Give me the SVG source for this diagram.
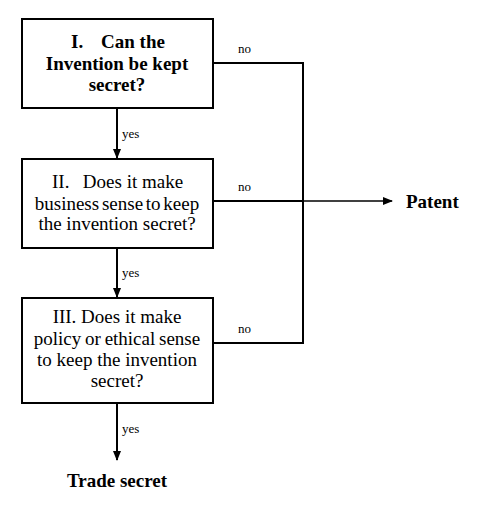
<svg xmlns="http://www.w3.org/2000/svg" width="501" height="506" viewBox="0 0 501 506">
<defs>
<marker id="ah" markerWidth="10" markerHeight="8" refX="9" refY="4" orient="auto" markerUnits="userSpaceOnUse">
<path d="M0,0 L10,4 L0,8 Z" fill="#000"/>
</marker>
<style>
.box{fill:#fff;stroke:#000;stroke-width:2}
.ln{fill:none;stroke:#000;stroke-width:2}
.t{font-family:"Liberation Serif","Times New Roman",serif;font-size:19px;fill:#000;text-anchor:middle}
.b{font-weight:bold}
.st{text-anchor:start}
.s{font-family:"Liberation Serif","Times New Roman",serif;font-size:13px;fill:#000}
</style>
</defs>
<rect width="501" height="506" fill="#fff"/>
<g id="connectors">
<path class="ln" d="M117,108 V158" marker-end="url(#ah)"/>
<path class="ln" d="M117,248 V297" marker-end="url(#ah)"/>
<path class="ln" d="M117,403 V460" marker-end="url(#ah)"/>
<path class="ln" d="M213,63 H303 V343 H213"/>
<path class="ln" d="M213,201 H303"/>
<path class="ln" d="M303,201 H392" style="stroke-width:1.5" marker-end="url(#ah)"/>
<text class="s" x="122" y="138">yes</text>
<text class="s" x="122" y="277">yes</text>
<text class="s" x="122" y="433">yes</text>
<text class="s" x="238" y="53">no</text>
<text class="s" x="238" y="191">no</text>
<text class="s" x="238" y="333">no</text>
</g>
<g id="node1">
<rect class="box" x="22" y="19" width="191" height="89"/>
<text class="t b"><tspan class="st" x="71" y="48">I.</tspan><tspan x="133" y="48">Can the</tspan><tspan x="117" y="70">Invention be kept</tspan><tspan x="117" y="91">secret?</tspan></text>
</g>
<g id="node2">
<rect class="box" x="22" y="159" width="191" height="89"/>
<text class="t"><tspan class="st" x="52" y="188">II.</tspan><tspan x="133" y="188">Does it make</tspan><tspan x="117" y="210" word-spacing="-2">business sense to keep</tspan><tspan x="117" y="230">the invention secret?</tspan></text>
</g>
<g id="node3">
<rect class="box" x="22" y="298" width="191" height="105"/>
<text class="t"><tspan x="117" y="323">III. Does it make</tspan><tspan x="117" y="345" word-spacing="-1">policy or ethical sense</tspan><tspan x="117" y="366">to keep the invention</tspan><tspan x="117" y="387">secret?</tspan></text>
</g>
<g id="patent">
<text class="t b st" x="406" y="208">Patent</text>
</g>
<g id="trade">
<text class="t b" x="117" y="487">Trade secret</text>
</g>
</svg>
